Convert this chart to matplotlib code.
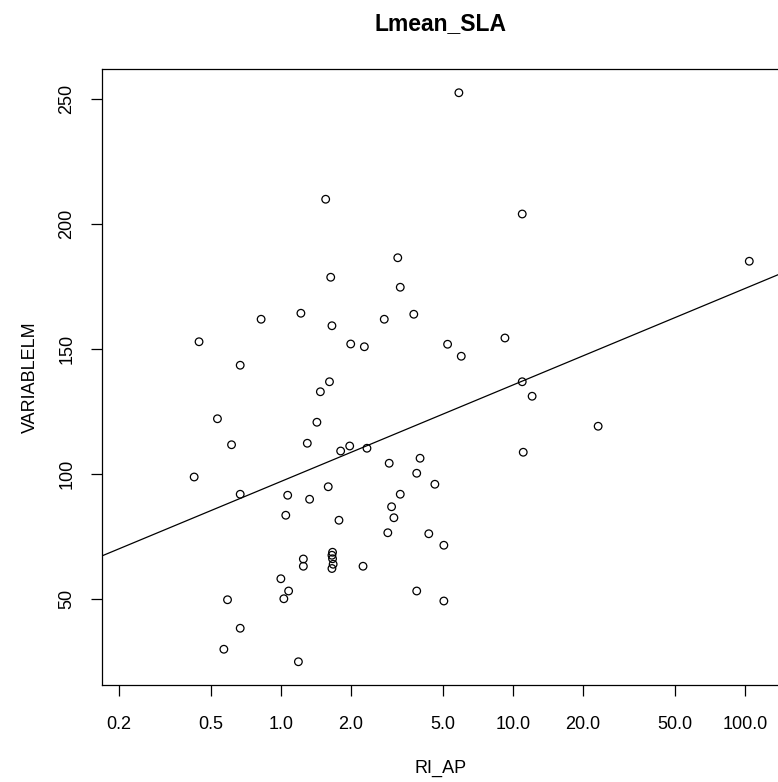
import numpy as np
import matplotlib
matplotlib.use("Agg")
import matplotlib.pyplot as plt

# RI_AP (log scale) vs VARIABLELM
ri_ap = [1.56, 3.19, 1.64, 3.27, 0.822, 1.22, 1.66, 2.79, 3.74, 0.444,
         2.00, 2.29, 0.668, 5.85, 10.97, 104.4, 5.23, 5.99, 9.24, 1.62,
         1.48, 0.533, 1.43, 0.613, 1.30, 1.81, 1.98, 2.35, 2.93, 3.98,
         3.85, 4.61, 0.423, 0.668, 1.07, 1.05, 1.33, 1.60, 1.78, 3.27,
         3.00, 3.07, 2.89, 4.34, 1.67, 1.66, 1.67, 1.68, 1.66, 1.25,
         1.25, 2.26, 1.00, 1.08, 1.03, 0.589, 3.85, 0.668, 0.568, 1.19,
         10.97, 12.1, 23.3, 11.08, 5.04, 5.04]
variablelm = [210.0, 186.6, 178.8, 174.8, 162.0, 164.4, 159.4, 162.0, 164.0, 153.0,
              152.1, 151.0, 143.6, 252.6, 204.1, 185.2, 152.0, 147.2, 154.5, 137.0,
              133.0, 122.2, 120.8, 111.8, 112.4, 109.3, 111.3, 110.4, 104.4, 106.4,
              100.4, 96.0, 98.9, 92.0, 91.6, 83.6, 90.0, 95.0, 81.6, 92.0,
              87.0, 82.6, 76.6, 76.2, 68.8, 67.6, 66.2, 64.0, 62.3, 66.1,
              63.2, 63.2, 58.2, 53.3, 50.2, 49.8, 53.3, 38.4, 30.0, 25.0,
              137.0, 131.2, 119.2, 108.8, 71.6, 49.3]

# fitted line: VARIABLELM = a + b * log10(RI_AP)
fit_intercept = 97.1
fit_slope = 38.6

x_ticks = [0.2, 0.5, 1.0, 2.0, 5.0, 10.0, 20.0, 50.0, 100.0]
x_ticklabels = ["0.2", "0.5", "1.0", "2.0", "5.0", "10.0", "20.0", "50.0", "100.0"]
y_ticks = [50, 100, 150, 200, 250]

plt.rcParams["font.family"] = ["Liberation Sans", "DejaVu Sans"]

W, H = 778, 782
fig = plt.figure(figsize=(W / 100, H / 100), dpi=100)
left, right, top, bottom = 101.7, 780, 69, 685
ax = fig.add_axes([left / W, 1 - bottom / H, (right - left) / W, (bottom - top) / H])

ax.set_xscale("log")
ax.set_xlim(0.169, 141.6)
ax.set_ylim(15.7, 262.1)

ax.scatter(ri_ap, variablelm, s=30, facecolors="none", edgecolors="black",
           linewidths=0.9, zorder=3)

xs = np.logspace(np.log10(0.169), np.log10(141.6), 50)
ax.plot(xs, fit_intercept + fit_slope * np.log10(xs), color="black", lw=0.9)

ax.set_xticks(x_ticks)
ax.set_xticklabels(x_ticklabels)
ax.xaxis.set_minor_locator(matplotlib.ticker.NullLocator())
ax.set_yticks(y_ticks)
ax.set_yticklabels([str(v) for v in y_ticks], rotation=90, va="center")
ax.tick_params(axis="both", length=8, width=0.9, labelsize=13, color="black")
ax.tick_params(axis="x", pad=14)
ax.tick_params(axis="y", pad=11)

for sp in ax.spines.values():
    sp.set_linewidth(0.9)

ax.set_xlabel("RI_AP", fontsize=13)
ax.xaxis.set_label_coords(0.5, -(768 - bottom) / (bottom - top))
ax.xaxis.label.set_va("center")
ax.set_ylabel("VARIABLELM", fontsize=13)
ax.yaxis.set_label_coords(-(left - 30) / (right - left), 0.5)
ax.yaxis.label.set_va("center")

ax.text(0.5, 1 + (top - 24) / (bottom - top), "Lmean_SLA", transform=ax.transAxes,
        ha="center", va="center", fontsize=16.5, fontweight="bold")

fig.savefig("out.png", dpi=100)
